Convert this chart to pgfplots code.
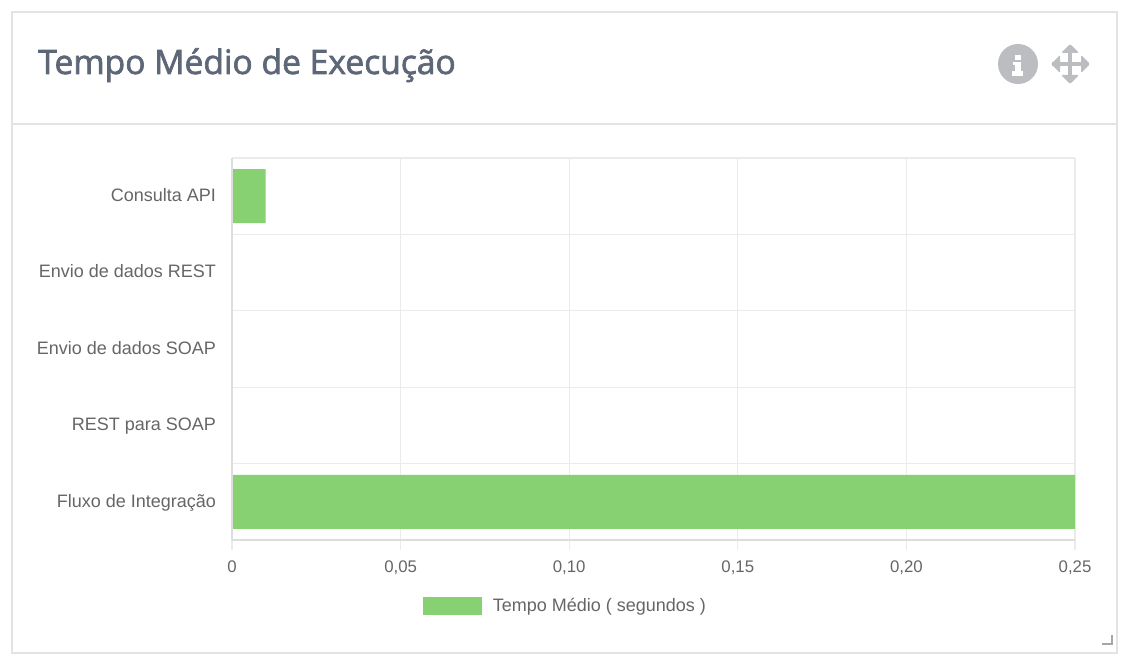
\documentclass[border=0pt]{standalone}
\usepackage{fontspec}
\usepackage{pgfplots}
\pgfplotsset{compat=1.18}
\setmainfont{Liberation Sans}
\newfontfamily\titlefont[FakeBold=2]{Open Sans}
\definecolor{bargreen}{HTML}{87D172}
\definecolor{gridc}{HTML}{EBEBEB}
\definecolor{axisc}{HTML}{DDDDDD}
\definecolor{labelc}{HTML}{666666}
\definecolor{titlec}{HTML}{5D6778}
\definecolor{iconc}{HTML}{BCBDC1}
\definecolor{panelc}{HTML}{E3E3E3}
\begin{document}
\begin{tikzpicture}
\begin{scope}[x=0.75pt,y=0.75pt]
\fill[white] (0,0) rectangle (1130,668);
\draw[panelc,line width=1.5pt] (12,15) rectangle (1117,656);
\draw[panelc,line width=1.5pt] (12,544) -- (1117,544);
\node[anchor=base west,inner sep=0pt,text=titlec,font=\titlefont\fontsize{25.2pt}{28pt}\selectfont] at (38,594) {Tempo Médio de Execução};
% info icon
\fill[iconc] (1018,604) circle (20);
\fill[white] (1014.5,613) rectangle (1021,608);
\fill[white] (1012.5,606) rectangle (1021,602.5);
\fill[white] (1014.5,606) rectangle (1021,596);
\fill[white] (1012,596.5) rectangle (1023,592);
% move icon
\draw[iconc,line width=3pt] (1052,604) -- (1088,604);
\draw[iconc,line width=3pt] (1070,586) -- (1070,622);
\fill[iconc,rounded corners=1pt] (1051,604) -- (1060,613) -- (1060,595) -- cycle;
\fill[iconc,rounded corners=1pt] (1090,604) -- (1081,613) -- (1081,595) -- cycle;
\fill[iconc,rounded corners=1pt] (1070,624) -- (1061,615) -- (1079,615) -- cycle;
\fill[iconc,rounded corners=1pt] (1070,584) -- (1061,593) -- (1079,593) -- cycle;
% resize handle
\draw[gray!70,line width=1pt] (1102,24) -- (1112,24) -- (1112,33);
\end{scope}
\begin{axis}[
  at={(232*0.75pt,128*0.75pt)},anchor=south west,
  scale only axis,
  width=843*0.75pt,height=382*0.75pt,
  xmin=0,xmax=0.25,
  ymin=-0.5,ymax=4.5,
  y dir=reverse,
  xtick={0,0.05,0.10,0.15,0.20,0.25},
  xticklabels={0,{0,05},{0,10},{0,15},{0,20},{0,25}},
  ytick={0,1,2,3,4},
  yticklabels={Consulta API,Envio de dados REST,Envio de dados SOAP,REST para SOAP,Fluxo de Integração},
  typeset ticklabels with strut,
  minor ytick={-0.5,0.5,1.5,2.5,3.5,4.5},
  xmajorgrids=true,
  yminorgrids=true,
  grid style={gridc,line width=0.9pt},
  minor grid style={gridc,line width=0.9pt},
  tick align=outside,
  tick pos=left,
  major tick length=7.5pt,
  minor tick length=9pt,
  x tick style={gridc,line width=0.9pt},
  y tick style={draw=none},
  minor y tick style={gridc,line width=0.9pt},
  axis line style={draw=none},
  xticklabel style={font=\fontsize{12.6pt}{15pt}\selectfont,text=labelc,yshift=-2.5pt},
  yticklabel style={font=\fontsize{13.5pt}{15pt}\selectfont,text=labelc,xshift=-1pt,yshift=-1pt},
  xbar,
  bar width=40.5pt,
  legend style={at={(0.3960,-0.1715)},anchor=center,draw=none,fill=none,
    font=\fontsize{13.5pt}{15pt}\selectfont,text=labelc,inner sep=0pt},
  legend image code/.code={\fill[bargreen] (0pt,-6.75pt) rectangle (44.25pt,6.75pt);},
  clip=false,
]
\addplot[fill=bargreen,draw=none] coordinates {(0.01,0) (0,1) (0,2) (0,3) (0.25,4)};
\addlegendentry{\hspace{6pt}Tempo Médio ( segundos )}
\draw[axisc,line width=0.9pt] (axis cs:0,-0.5) -- (axis cs:0,4.5);
\draw[axisc,line width=1.1pt] (axis cs:0,4.5) -- (axis cs:0.25,4.5);
\end{axis}
\end{tikzpicture}
\end{document}
